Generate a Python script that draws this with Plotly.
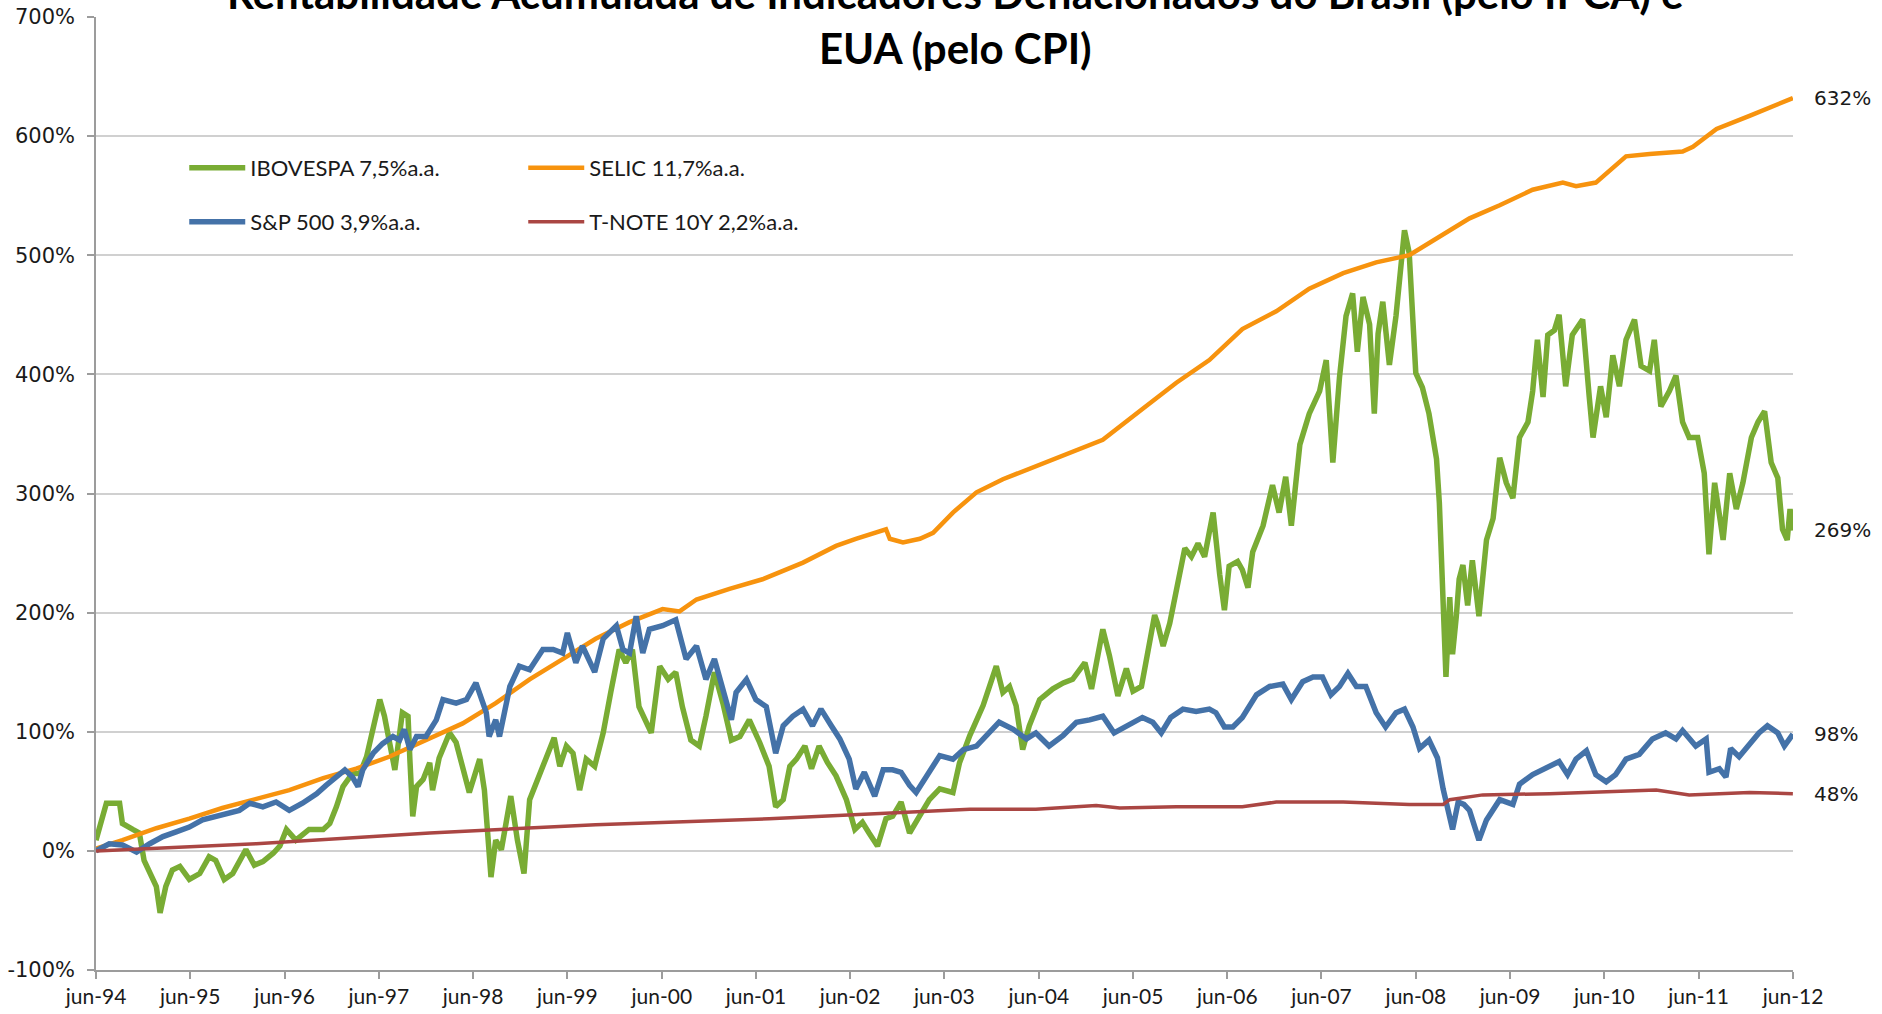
import numpy as np
import pandas as pd
import plotly.graph_objects as go

# ---------------- data (years after jun-94, cumulative real return %) ----------------
ibov_t = [0.00, 0.11, 0.25, 0.28, 0.39, 0.46, 0.51, 0.57, 0.64, 0.68, 0.74, 0.81, 0.89, 0.99, 1.10, 1.20, 1.27, 1.36, 1.45, 1.59,
          1.68, 1.77, 1.88, 1.95, 2.02, 2.12, 2.26, 2.41, 2.48, 2.55, 2.62, 2.72, 2.80, 2.87, 2.94, 3.01, 3.06, 3.11, 3.17, 3.25,
          3.31, 3.33, 3.36, 3.40, 3.47, 3.54, 3.57, 3.64, 3.75, 3.82, 3.89, 3.96, 4.07, 4.12, 4.19, 4.24, 4.30, 4.40, 4.47, 4.54,
          4.60, 4.70, 4.77, 4.86, 4.92, 4.99, 5.06, 5.13, 5.20, 5.29, 5.38, 5.46, 5.55, 5.62, 5.69, 5.76, 5.89, 5.98, 6.07, 6.15,
          6.22, 6.31, 6.40, 6.47, 6.56, 6.65, 6.74, 6.83, 6.93, 7.04, 7.14, 7.21, 7.29, 7.36, 7.43, 7.52, 7.59, 7.67, 7.76, 7.85,
          7.96, 8.05, 8.13, 8.20, 8.29, 8.38, 8.45, 8.54, 8.63, 8.72, 8.84, 8.95, 9.09, 9.16, 9.27, 9.41, 9.55, 9.62, 9.69, 9.76,
          9.83, 9.90, 10.01, 10.15, 10.26, 10.36, 10.49, 10.56, 10.68, 10.75, 10.84, 10.93, 11.00, 11.09, 11.14, 11.23, 11.26, 11.32, 11.39, 11.46,
          11.55, 11.62, 11.69, 11.76, 11.85, 11.92, 11.97, 12.02, 12.11, 12.16, 12.22, 12.27, 12.38, 12.48, 12.55, 12.62, 12.68, 12.77, 12.87, 12.98,
          13.05, 13.12, 13.19, 13.26, 13.33, 13.38, 13.44, 13.51, 13.56, 13.60, 13.65, 13.72, 13.79, 13.88, 13.93, 14.00, 14.07, 14.14, 14.22, 14.25,
          14.29, 14.32, 14.36, 14.39, 14.43, 14.46, 14.50, 14.55, 14.60, 14.67, 14.75, 14.82, 14.89, 14.96, 15.03, 15.10, 15.19, 15.24, 15.29, 15.35,
          15.40, 15.47, 15.52, 15.59, 15.66, 15.77, 15.84, 15.88, 15.96, 16.02, 16.09, 16.16, 16.23, 16.32, 16.39, 16.48, 16.53, 16.60, 16.69, 16.76,
          16.83, 16.90, 16.99, 17.06, 17.11, 17.17, 17.26, 17.33, 17.40, 17.47, 17.56, 17.63, 17.70, 17.77, 17.84, 17.89, 17.94, 17.97, 18.00]
ibov_v = [9, 40, 40, 23, 18, 15, -8, -19, -30, -52, -30, -16, -13, -24, -19, -5, -8, -24, -19, 1,
          -12, -9, -2, 4, 18, 9, 18, 18, 23, 37, 54, 65, 65, 79, 102, 127, 113, 90, 68, 116,
          113, 76, 29, 54, 60, 74, 51, 78, 99, 91, 71, 49, 77, 51, -22, 9, 1, 46, 9, -19,
          43, 65, 77, 95, 71, 88, 82, 51, 77, 71, 99, 133, 169, 158, 169, 121, 99, 155, 144, 150,
          121, 93, 88, 113, 150, 124, 93, 96, 110, 91, 71, 37, 43, 71, 77, 88, 69, 88, 74, 63,
          43, 18, 24, 15, 4, 27, 29, 41, 15, 27, 43, 52, 49, 74, 97, 122, 155, 133, 138, 122,
          85, 105, 127, 136, 141, 144, 158, 136, 186, 164, 130, 153, 134, 138, 161, 198, 191, 172, 191, 217,
          254, 247, 258, 247, 284, 232, 202, 239, 243, 236, 221, 251, 273, 307, 284, 314, 273, 341, 367, 386,
          412, 326, 397, 449, 468, 419, 465, 442, 367, 434, 461, 408, 449, 521, 502, 401, 389, 367, 329, 292,
          209, 146, 213, 165, 197, 228, 240, 206, 244, 197, 261, 279, 330, 309, 296, 347, 360, 386, 429, 381,
          433, 437, 450, 390, 433, 446, 381, 347, 390, 364, 416, 390, 429, 446, 407, 403, 429, 373, 386, 399,
          360, 347, 347, 317, 249, 309, 261, 317, 287, 309, 347, 360, 369, 326, 313, 270, 261, 287, 269]

selic_t = [0.00, 0.28, 0.64, 0.99, 1.34, 1.70, 2.05, 2.41, 2.76, 3.11, 3.47, 3.64, 3.89, 4.24, 4.60, 4.95, 5.30, 5.66, 6.01, 6.19,
           6.37, 6.72, 7.07, 7.50, 7.85, 8.06, 8.38, 8.42, 8.56, 8.74, 8.88, 9.09, 9.34, 9.62, 9.97, 10.33, 10.68, 11.10, 11.46, 11.81,
           12.16, 12.52, 12.87, 13.23, 13.58, 13.93, 14.11, 14.46, 14.57, 14.89, 15.24, 15.56, 15.70, 15.91, 16.23, 16.48, 16.83, 16.94, 17.19, 17.54,
           18.00]
selic_v = [2, 9, 19, 27, 36, 44, 51, 61, 69, 79, 92, 99, 107, 124, 144, 161, 178, 192, 203, 201,
           211, 220, 228, 242, 256, 262, 270, 262, 259, 262, 267, 284, 301, 312, 323, 334, 345, 371, 393, 412,
           438, 453, 472, 485, 494, 500, 509, 526, 531, 542, 555, 561, 558, 561, 583, 585, 587, 591, 606, 617,
           632]

sp_t = [0.00, 0.14, 0.28, 0.43, 0.57, 0.71, 0.85, 0.99, 1.13, 1.27, 1.42, 1.52, 1.63, 1.77, 1.91, 2.05, 2.19, 2.34, 2.44, 2.55,
        2.64, 2.72, 2.78, 2.83, 2.94, 3.04, 3.15, 3.22, 3.27, 3.33, 3.40, 3.50, 3.61, 3.68, 3.82, 3.93, 4.03, 4.14, 4.17, 4.24,
        4.28, 4.39, 4.49, 4.60, 4.74, 4.85, 4.95, 5.00, 5.09, 5.16, 5.29, 5.38, 5.52, 5.59, 5.66, 5.73, 5.80, 5.87, 6.01, 6.15,
        6.26, 6.37, 6.47, 6.56, 6.65, 6.74, 6.79, 6.90, 7.00, 7.11, 7.21, 7.29, 7.39, 7.50, 7.60, 7.69, 7.80, 7.89, 7.99, 8.06,
        8.15, 8.26, 8.35, 8.45, 8.54, 8.63, 8.70, 8.81, 8.95, 9.09, 9.20, 9.34, 9.48, 9.58, 9.73, 9.87, 9.97, 10.11, 10.26, 10.40,
        10.54, 10.68, 10.80, 10.96, 11.10, 11.21, 11.30, 11.40, 11.53, 11.67, 11.81, 11.88, 11.97, 12.06, 12.16, 12.31, 12.45, 12.59, 12.68, 12.80,
        12.91, 13.01, 13.10, 13.19, 13.28, 13.37, 13.47, 13.58, 13.68, 13.79, 13.88, 13.97, 14.04, 14.14, 14.23, 14.29, 14.34, 14.39, 14.45, 14.51,
        14.57, 14.67, 14.75, 14.89, 15.03, 15.10, 15.24, 15.38, 15.52, 15.61, 15.70, 15.81, 15.91, 16.02, 16.12, 16.23, 16.37, 16.51, 16.65, 16.76,
        16.83, 16.97, 17.08, 17.11, 17.22, 17.29, 17.34, 17.43, 17.54, 17.64, 17.73, 17.84, 17.91, 18.00]
sp_v = [0, 6, 5, -1, 6, 12, 16, 20, 26, 29, 33, 34, 40, 37, 41, 34, 40, 48, 55, 62,
        68, 62, 54, 68, 82, 90, 96, 93, 102, 85, 96, 96, 110, 127, 124, 127, 141, 116, 96, 110,
        96, 138, 155, 152, 169, 169, 166, 183, 158, 172, 150, 178, 189, 169, 166, 197, 166, 186, 189, 194,
        161, 172, 144, 161, 135, 110, 133, 144, 127, 121, 82, 105, 113, 119, 105, 119, 105, 94, 77, 52,
        66, 46, 68, 68, 66, 55, 49, 63, 80, 77, 85, 88, 99, 108, 102, 94, 99, 88, 97, 108,
        110, 113, 99, 106, 112, 108, 99, 112, 119, 117, 119, 116, 104, 104, 112, 131, 138, 140, 127, 142,
        146, 146, 131, 138, 149, 138, 138, 116, 104, 116, 119, 104, 86, 93, 78, 52, 37, 18, 41, 39,
        34, 9, 26, 43, 39, 56, 64, 69, 75, 64, 77, 84, 64, 58, 64, 77, 81, 94, 99, 94,
        101, 88, 94, 66, 69, 62, 86, 79, 90, 99, 105, 99, 88, 98]

tnote_t = [0.00, 1.70, 3.54, 5.30, 7.14, 8.20, 9.27, 9.97, 10.61, 10.86, 11.46, 12.16, 12.52, 13.23, 13.93, 14.29, 14.36, 14.71, 15.42, 16.55,
           16.90, 17.54, 18.00]
tnote_v = [0, 6, 15, 22, 27, 31, 35, 35, 38, 36, 37, 37, 41, 41, 39, 39, 43, 47, 48, 51,
           47, 49, 48]

series_names = ["IBOVESPA 7,5%a.a.", "SELIC 11,7%a.a.", "S&P 500 3,9%a.a.", "T-NOTE 10Y 2,2%a.a."]
tick_years = list(range(1994, 2013))
tick_labels = ["jun-94", "jun-95", "jun-96", "jun-97", "jun-98", "jun-99", "jun-00", "jun-01", "jun-02", "jun-03",
               "jun-04", "jun-05", "jun-06", "jun-07", "jun-08", "jun-09", "jun-10", "jun-11", "jun-12"]
y_ticks = [-100, 0, 100, 200, 300, 400, 500, 600, 700]

# ---------------- figure ----------------
START = pd.Timestamp("1994-06-01")


def to_dates(t):
    return START + pd.to_timedelta(np.asarray(t) * 365.25, unit="D")


colors = ["#79AC34", "#F7930E", "#4472A8", "#AA4643"]
widths = [5.5, 4.5, 5.5, 3.5]
data = [(ibov_t, ibov_v), (selic_t, selic_v), (sp_t, sp_v), (tnote_t, tnote_v)]
legends = ["legend", "legend", "legend2", "legend2"]

fig = go.Figure()
for name, (t, v), c, w, lg in zip(series_names, data, colors, widths, legends):
    fig.add_trace(go.Scatter(x=to_dates(t), y=v, mode="lines", name=name,
                             line=dict(color=c, width=w), legend=lg, hoverinfo="skip"))

# invisible trace to carry the gridline axis
fig.add_trace(go.Scatter(x=[START], y=[0], yaxis="y2", mode="markers",
                         marker=dict(opacity=0), showlegend=False, hoverinfo="skip"))

axis_col = "#9C9C9C"
L, R, T, B = 96, 89, 17, 44
PW, PH = 1882 - L - R, 1014 - T - B

fig.update_layout(
    width=1882, height=1014,
    margin=dict(l=L, r=R, t=T, b=B, autoexpand=False),
    paper_bgcolor="white", plot_bgcolor="white",
    showlegend=True,
    xaxis=dict(
        range=[START, pd.Timestamp("2012-06-01")], automargin=False,
        tickvals=[pd.Timestamp(f"{y}-06-01") for y in tick_years],
        ticktext=tick_labels,
        showgrid=False, zeroline=False,
        showline=True, linecolor=axis_col, linewidth=1.5,
        ticks="outside", ticklen=7, tickcolor=axis_col, tickwidth=1.5,
        tickfont=dict(family="Lato, sans-serif", size=21, color="#1a1a1a"),
    ),
    yaxis=dict(
        range=[-100, 700], tickvals=y_ticks, ticktext=[f"{v}%" for v in y_ticks], automargin=False,
        showgrid=False, zeroline=False,
        showline=True, linecolor=axis_col, linewidth=1.5,
        ticks="outside", ticklen=7, tickcolor=axis_col, tickwidth=1.5, ticklabelstandoff=8,
        tickfont=dict(family="DejaVu Sans, sans-serif", size=21, color="#1a1a1a"),
    ),
    yaxis2=dict(
        range=[-100, 700], overlaying="y", side="left", tickvals=y_ticks[1:-1], automargin=False,
        showgrid=True, gridcolor="#D0D0D0", gridwidth=1.5, zeroline=False,
        showticklabels=False, ticks="", showline=False,
    ),
    legend=dict(orientation="h", x=0.052, y=0.8415, xanchor="left", yanchor="middle",
                entrywidth=268, itemwidth=56, bgcolor="rgba(0,0,0,0)",
                font=dict(family="Lato, sans-serif", size=22, color="#1a1a1a")),
    legend2=dict(orientation="h", x=0.052, y=0.785, xanchor="left", yanchor="middle",
                 entrywidth=268, itemwidth=56, bgcolor="rgba(0,0,0,0)",
                 font=dict(family="Lato, sans-serif", size=22, color="#1a1a1a")),
)

# title (first line partially cut by the top edge, as in the reference)
fig.add_annotation(
    text="<b>Rentabilidade Acumulada de Indicadores Deflacionados do Brasil (pelo IPCA) e<br>EUA (pelo CPI)</b>",
    xref="paper", yref="paper", x=(955 - L) / PW, y=(1014 - B - 20) / PH,
    xanchor="center", yanchor="middle", showarrow=False, align="center",
    font=dict(family="Lato, sans-serif", size=42, color="#000000"),
)

# end-value labels
for (t, v) in data:
    fig.add_annotation(
        text=f"{v[-1]:.0f}%", xref="paper", yref="y", x=1, y=v[-1],
        xanchor="left", yanchor="middle", xshift=19, showarrow=False,
        font=dict(family="DejaVu Sans, sans-serif", size=20, color="#1a1a1a"),
    )

fig.write_html(
    "out.html",
    config={"displayModeBar": False},
    post_script="document.body.style.margin='0';document.body.style.overflow='hidden';",
)
